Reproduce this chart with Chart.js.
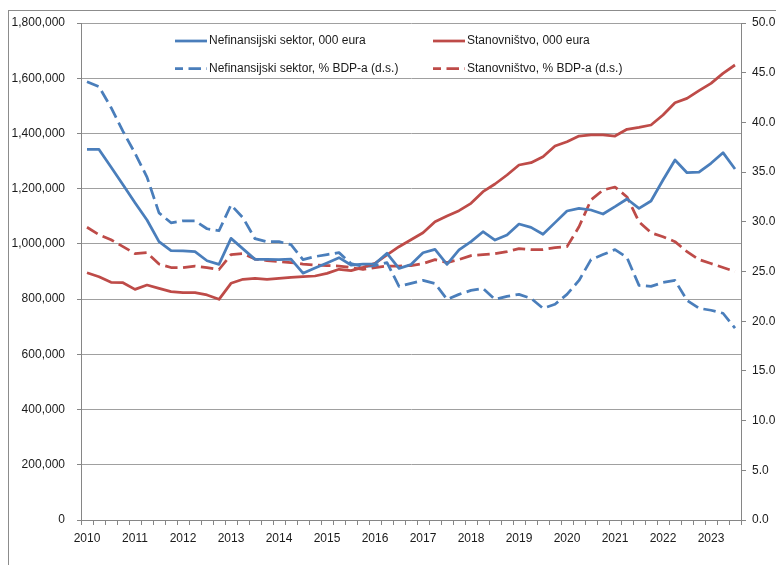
<!DOCTYPE html>
<html>
<head>
<meta charset="utf-8">
<script src="https://cdn.jsdelivr.net/npm/chart.js@4.4.1/dist/chart.umd.min.js"></script>
<style>
  html, body { margin: 0; padding: 0; background: #fff; }
  #wrap { width: 776px; height: 565px; position: relative; }
</style>
</head>
<body>
<div id="wrap"><canvas id="c" width="776" height="565"></canvas></div>
<script>
// ---- data ----
const years = [2010,2011,2012,2013,2014,2015,2016,2017,2018,2019,2020,2021,2022,2023];
const quarters = ['Q1','Q2','Q3','Q4'];
const categories = [];
years.forEach(y => quarters.forEach(q => categories.push(y + q)));
categories.length = 55; // 2010Q1 .. 2023Q3

const nefEur = [1342600,1342000,1278500,1214400,1149000,1086500,1008000,975300,975000,971700,
  939000,926000,1020000,982000,944000,944000,943000,945000,894000,913000,
  931000,950000,923500,927000,928000,966000,911500,925000,968000,980000,
  926000,977900,1008000,1044000,1014000,1032000,1072000,1060000,1035000,1077000,
  1119000,1128800,1122700,1108200,1134700,1162600,1128800,1155300,1231400,1303800,
  1257800,1260000,1291800,1330400,1271200];
const stanEur = [895700,881200,860800,859500,835400,851100,839000,827000,823300,823300,
  815000,799300,857200,871700,875300,871700,875300,879000,881200,883700,
  893400,907900,903000,915000,929700,959800,989800,1015000,1040500,1080400,
  1101000,1120200,1147000,1189000,1216900,1249500,1285700,1294000,1315800,1354500,
  1370000,1390700,1394400,1394400,1390700,1415000,1422200,1430600,1466800,1511400,
  1527000,1554900,1581500,1617700,1647900];
const nefPct = [44.1,43.6,41.5,39.1,36.9,34.5,30.9,29.9,30.1,30.1,
  29.3,29.1,31.7,30.4,28.3,28.0,28.0,27.7,26.2,26.5,
  26.7,26.9,25.8,25.5,25.6,25.9,23.5,23.8,24.1,23.8,
  22.2,22.7,23.1,23.3,22.2,22.5,22.7,22.3,21.3,21.7,
  22.7,24.1,26.2,26.7,27.2,26.4,23.6,23.5,23.9,24.1,
  22.1,21.3,21.1,20.8,19.3];
const stanPct = [29.45,28.7,28.2,27.5,26.8,26.9,25.75,25.4,25.4,25.55,
  25.4,25.2,26.7,26.8,26.25,26.1,26.0,25.9,25.75,25.65,
  25.6,25.55,25.4,25.2,25.4,25.55,25.55,25.6,25.8,26.2,
  25.9,26.2,26.6,26.7,26.8,27.0,27.3,27.2,27.2,27.4,
  27.5,29.5,32.2,33.2,33.5,32.5,30.0,28.9,28.5,28.0,
  27.0,26.2,25.8,25.4,25.0];
const seriesNames = ['Nefinansijski sektor, 000 eura','Stanovništvo, 000 eura',
  'Nefinansijski sektor, % BDP-a (d.s.)','Stanovništvo, % BDP-a (d.s.)'];
const leftTicks = [0,200000,400000,600000,800000,1000000,1200000,1400000,1600000,1800000];
const rightTicks = [0,5,10,15,20,25,30,35,40,45,50];

// ---- style ----
const BLUE = '#4A7EBB', RED = '#BE4B48';
const FONT = "'Liberation Sans', Arial, sans-serif";
const DASH = [12.5, 5.5];

const legendPlugin = {
  id: 'gridLegend',
  afterDraw(chart) {
    const ctx = chart.ctx;
    const cols = [175, 433], rows = [41, 68.5];
    ctx.save();
    chart.data.datasets.forEach((ds, i) => {
      const x = cols[i % 2], y = rows[Math.floor(i / 2)];
      ctx.beginPath();
      ctx.strokeStyle = ds.borderColor;
      ctx.lineWidth = ds.borderWidth;
      ctx.setLineDash(ds.borderDash || []);
      ctx.lineDashOffset = ds.borderDash ? 4.5 : 0;
      ctx.moveTo(x, y); ctx.lineTo(x + 32, y);
      ctx.stroke();
      ctx.setLineDash([]);
      ctx.lineDashOffset = 0;
      ctx.fillStyle = '#1a1a1a';
      ctx.font = '12px ' + FONT;
      ctx.textBaseline = 'middle';
      ctx.textAlign = 'left';
      ctx.fillText(ds.label, x + 34, y);
    });
    ctx.restore();
  }
};
const framePlugin = {
  id: 'frame',
  beforeDraw(chart) {
    const ctx = chart.ctx;
    ctx.save();
    ctx.fillStyle = '#fff';
    ctx.fillRect(0, 0, chart.width, chart.height);
    ctx.strokeStyle = '#8c8c8c';
    ctx.lineWidth = 1;
    ctx.strokeRect(8.5, 10.5, 900, 700);
    ctx.restore();
  }
};

new Chart(document.getElementById('c'), {
  type: 'line',
  data: {
    labels: categories,
    datasets: [
      { label: seriesNames[0], data: nefEur, yAxisID: 'y', borderColor: BLUE, borderWidth: 2.75 },
      { label: seriesNames[1], data: stanEur, yAxisID: 'y', borderColor: RED, borderWidth: 2.75 },
      { label: seriesNames[2], data: nefPct, yAxisID: 'y1', borderColor: BLUE, borderWidth: 2.75, borderDash: DASH },
      { label: seriesNames[3], data: stanPct, yAxisID: 'y1', borderColor: RED, borderWidth: 2.75, borderDash: DASH }
    ]
  },
  options: {
    responsive: false,
    animation: false,
    devicePixelRatio: 1,
    layout: { padding: { left: 0, right: 0, top: 23, bottom: 0 } },
    elements: { point: { radius: 0 }, line: { tension: 0, fill: false, borderCapStyle: 'butt', borderJoinStyle: 'round' } },
    plugins: { legend: { display: false }, tooltip: { enabled: false } },
    scales: {
      x: {
        type: 'category',
        offset: true,
        afterFit(s) { s.height = 45; },
        grid: { offset: true, drawOnChartArea: false, drawTicks: true, tickLength: 5, color: '#868686' },
        border: { display: true, color: '#868686', width: 1 },
        ticks: {
          autoSkip: false, maxRotation: 0, minRotation: 0, padding: 6,
          color: '#1a1a1a', font: { family: FONT, size: 12 },
          callback(v, i) { const c = categories[i]; return c.endsWith('Q1') ? c.slice(0, 4) : ''; }
        }
      },
      y: {
        position: 'left', min: 0, max: 1800000,
        afterFit(s) { s.width = 81; },
        afterBuildTicks(s) { s.ticks = leftTicks.map(v => ({ value: v })); },
        grid: { color: '#a0a0a0', tickLength: 4, drawTicks: true, tickColor: '#868686' },
        border: { display: true, color: '#868686' },
        ticks: {
          padding: 12, color: '#1a1a1a', font: { family: FONT, size: 12 },
          callback(v) { return v.toLocaleString('en-US'); }
        }
      },
      y1: {
        position: 'right', min: 0, max: 50,
        afterFit(s) { s.width = 35; },
        afterBuildTicks(s) { s.ticks = rightTicks.map(v => ({ value: v })); },
        grid: { drawOnChartArea: false, tickLength: 5, color: '#868686' },
        border: { display: true, color: '#868686' },
        ticks: {
          padding: 6, color: '#1a1a1a', font: { family: FONT, size: 12 },
          callback(v) { return v.toFixed(1); }
        }
      }
    }
  },
  plugins: [framePlugin, legendPlugin]
});
</script>
</body>
</html>
